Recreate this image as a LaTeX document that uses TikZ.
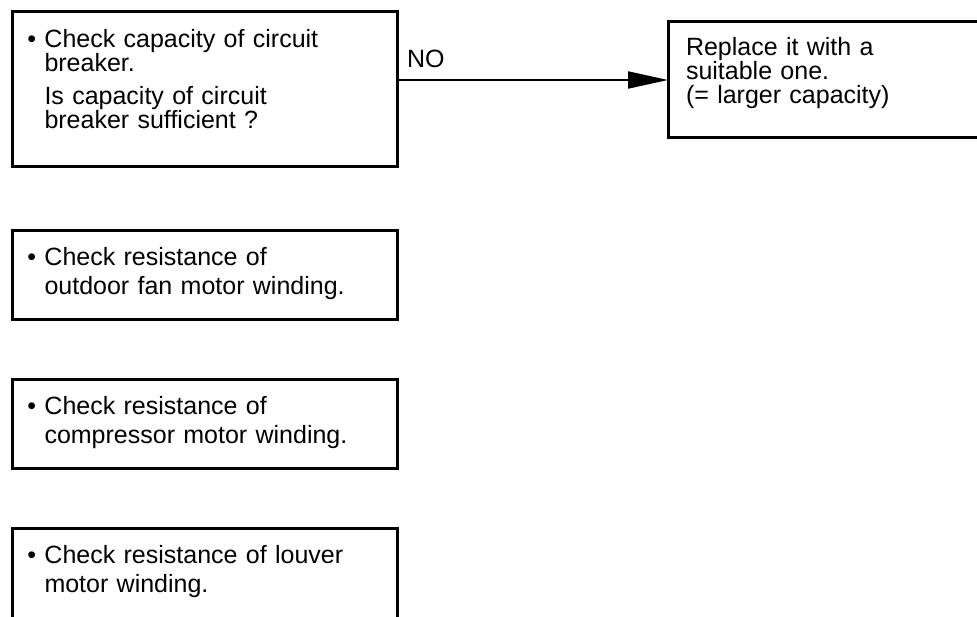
\documentclass[tikz,border=0pt]{standalone}
\usepackage{fontspec}
\setmainfont{Liberation Sans}
\usepackage{tikz}
\usetikzlibrary{positioning,arrows.meta}
\setlength{\parindent}{0pt}

\begin{document}
\begin{tikzpicture}[x=1pt, y=1pt, node distance=57pt, >={Triangle[length=40pt,width=17pt]},
    checkbox/.style={draw=black, line width=3pt, rectangle, align=left, font={\fontsize{25}{29}\selectfont}, inner xsep=32pt, inner ysep=0pt, text width=321pt, text height=35pt, text depth=54pt},
    openbox/.style={checkbox, draw=none, outer sep=0pt}]
  \useasboundingbox (0,0) rectangle (977,-617);

  % Nodes
  \node [checkbox, font={\fontsize{25}{24.5}\selectfont}, text height=36pt, text depth=119pt, anchor=north west] (breaker) at (11,-10)
    {\llap{\textbullet\ }Check capacity of circuit\\breaker.\\[8pt]Is capacity of circuit\\breaker sufficient ?};

  \node [openbox, font={\fontsize{25}{24}\selectfont}, inner xsep=18pt, text width=300pt, text height=34pt, text depth=82pt, right=269pt of breaker.north east, anchor=north west, yshift=-12pt] (replace)
    {Replace it with a\\suitable one.\\(= larger capacity)};

  \node [checkbox, below=61pt of breaker.south west, anchor=north west] (fan)
    {\llap{\textbullet\ }Check resistance of\\outdoor fan motor winding.};

  \node [checkbox, below=of fan.south west, anchor=north west] (compressor)
    {\llap{\textbullet\ }Check resistance of\\compressor motor winding.};

  \node [openbox, below=58pt of compressor.south west, anchor=north west, xshift=1.5pt] (louver)
    {\llap{\textbullet\ }Check resistance of louver\\motor winding.};

  % Open frames
  \draw [line width=3pt] (replace.north east) -- (replace.north west) -- (replace.south west) -- (replace.south east);
  \draw [line width=3pt] ([yshift=-10pt]louver.south west) -- (louver.north west) -- (louver.north east) -- ([yshift=-10pt]louver.south east);

  % Arrows
  \draw [->, line width=2pt] (breaker.east |- replace.west) -- (replace.west)
    node [pos=0, anchor=south west, inner sep=0pt, xshift=7pt, yshift=11pt, font={\fontsize{25}{27}\selectfont}] (no) {NO};
\end{tikzpicture}
\end{document}
